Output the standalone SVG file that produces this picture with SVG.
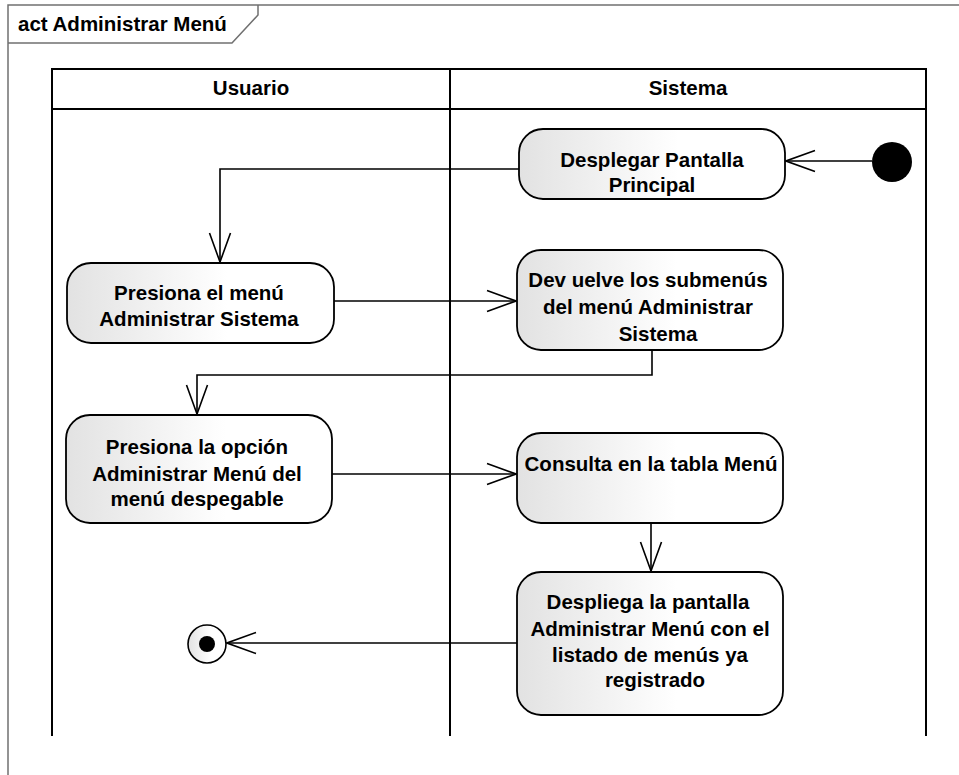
<svg xmlns="http://www.w3.org/2000/svg" width="959" height="775" viewBox="0 0 959 775">
<defs>
<linearGradient id="g" x1="0" y1="0" x2="1" y2="0">
<stop offset="0" stop-color="#e2e2e2"/>
<stop offset="0.6" stop-color="#ffffff"/>
</linearGradient>
<marker id="arr" markerUnits="userSpaceOnUse" viewBox="-31 -13 33 26" refX="0" refY="0" markerWidth="33" markerHeight="26" orient="auto">
<path d="M-29,-10.5 L0,0 L-29,10.5" fill="none" stroke="#000" stroke-width="1.6"/>
</marker>
<style>
.t{font-family:"Liberation Sans",Arial,sans-serif;font-weight:bold;font-size:20.5px;fill:#000;text-anchor:middle}
.n{fill:url(#g);stroke:#000;stroke-width:1.8}
.c{fill:none;stroke:#000;stroke-width:1.6;marker-end:url(#arr)}
.lane{fill:none;stroke:#000;stroke-width:2}
.frame{fill:none;stroke:#707070;stroke-width:1.5}
</style>
</defs>
<rect width="959" height="775" fill="#fff"/>
<g id="frame">
<path class="frame" d="M8,775 V5 H959"/>
<path class="frame" d="M8,43 H232 L258,15 V5"/>
<text class="t" x="18" y="31" style="text-anchor:start">act Administrar Menú</text>
</g>
<g id="lanes">
<rect class="lane" x="52" y="69" width="874" height="40"/>
<path class="lane" d="M52,109 V736 M450,69 V736 M926,109 V736"/>
<text class="t" x="251" y="95">Usuario</text>
<text class="t" x="688" y="95">Sistema</text>
</g>
<g id="connectors">
<path class="c" d="M872,161 H786"/>
<path class="c" d="M519,169 H220 V262"/>
<path class="c" d="M334,301 H516"/>
<path class="c" d="M652,350 V375 H197 V414"/>
<path class="c" d="M332,474 H516"/>
<path class="c" d="M651,523 V571"/>
<path class="c" d="M517,643 H227"/>
</g>
<g id="initial">
<circle cx="892" cy="162" r="20" fill="#000"/>
</g>
<g id="n1">
<rect class="n" x="519" y="129" width="266" height="70" rx="24"/>
<text class="t" x="652" y="167">Desplegar Pantalla</text>
<text class="t" x="652" y="192">Principal</text>
</g>
<g id="n2">
<rect class="n" x="67" y="263" width="267" height="80" rx="24"/>
<text class="t" x="199" y="300">Presiona el menú</text>
<text class="t" x="199" y="326">Administrar Sistema</text>
</g>
<g id="n3">
<rect class="n" x="517" y="250" width="266" height="100" rx="24"/>
<text class="t" x="648" y="287">Dev uelve los submenús</text>
<text class="t" x="648" y="314">del menú Administrar</text>
<text class="t" x="658" y="341">Sistema</text>
</g>
<g id="n4">
<rect class="n" x="66" y="415" width="266" height="108" rx="24"/>
<text class="t" x="197" y="454">Presiona la opción</text>
<text class="t" x="197" y="481">Administrar Menú del</text>
<text class="t" x="197" y="506">menú despegable</text>
</g>
<g id="n5">
<rect class="n" x="517" y="433" width="266" height="90" rx="24"/>
<text class="t" x="651" y="471">Consulta en la tabla Menú</text>
</g>
<g id="n6">
<rect class="n" x="517" y="572" width="266" height="143" rx="24"/>
<text class="t" x="648" y="609">Despliega la pantalla</text>
<text class="t" x="650" y="636">Administrar Menú con el</text>
<text class="t" x="650" y="662">listado de menús ya</text>
<text class="t" x="655" y="687">registrado</text>
</g>
<g id="final">
<circle cx="207" cy="644" r="19" fill="url(#g)" stroke="#000" stroke-width="1.6"/>
<circle cx="207" cy="644" r="8" fill="#000"/>
</g>
</svg>
